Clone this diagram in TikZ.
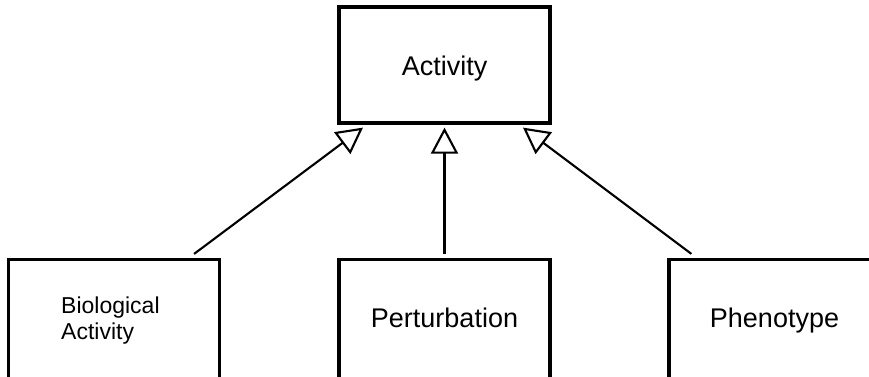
\documentclass[tikz,border=0pt]{standalone}
\usepackage{fontspec}
\setmainfont{Liberation Sans}
\usetikzlibrary{arrows.meta}
\begin{document}
\begin{tikzpicture}[x=1pt,y=-1pt,
  box/.style={draw=black,line width=3.2pt,fill=white,minimum width=211pt,inner sep=0pt,font=\fontsize{27}{31}\selectfont},
  topbox/.style={box,minimum height=116pt,text height=20pt,text depth=0pt},
  lowbox/.style={box,minimum height=130pt,text height=20pt,text depth=14pt},
  inh/.style={line width=2.1pt,-{Triangle[open,length=26pt,width=27pt,line width=2.1pt]}}]
\useasboundingbox (0,0) rectangle (869,376);
\clip (0,0) rectangle (869,376);
\fill[white] (0,0) rectangle (869,376);
\node[topbox] (act) at (444.5,65) {Activity};
\node[lowbox] (bio) at (114,324.5) {};
\node[font=\fontsize{23}{26}\selectfont,align=left,inner sep=0pt,anchor=west] (biot) at (61,321) {Biological\\Activity};
\node[lowbox] (pert) at (444.5,324.5) {Perturbation};
\node[lowbox] (phen) at (774.5,324.5) {Phenotype};
\draw[inh] ([xshift=-27pt,yshift=4pt]bio.north east) -- ([xshift=-81.5pt,yshift=-3pt]act.south);
\draw[inh] ([yshift=4pt]pert.north) -- ([yshift=-3pt]act.south);
\draw[inh] ([xshift=24pt,yshift=4pt]phen.north west) -- ([xshift=78.5pt,yshift=-3pt]act.south);
\end{tikzpicture}
\end{document}
